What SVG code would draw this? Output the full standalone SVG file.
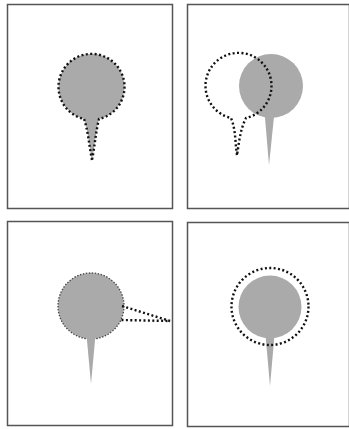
<svg xmlns="http://www.w3.org/2000/svg" width="349" height="429" viewBox="0 0 349 429">
<style>
.frame{fill:#fff;stroke:#555;stroke-width:1.5}
.grey{fill:#aaa;stroke:none}
.dots{fill:none;stroke:#111;stroke-width:2.4;stroke-dasharray:2 2.4}
.dotsfill{fill:#aaa;stroke:#111;stroke-width:2.4;stroke-dasharray:2 2.4}
.thin{fill:#aaa;stroke:#444;stroke-width:1.3;stroke-dasharray:1.5 1.5}
</style>
<rect width="349" height="429" fill="#fff"/>
<g id="panel1">
<rect class="frame" x="7.5" y="4.5" width="165" height="204"/>
<path class="dotsfill" d="M92,160 C89,145 88,130 84,119 A33,33 0 1 1 99,119 C96,130 95,145 92,160 Z"/>
</g>
<g id="panel2">
<rect class="frame" x="187.5" y="4.5" width="162" height="204"/>
<circle class="grey" cx="271" cy="86" r="32"/>
<polygon class="grey" points="264.5,112 274.5,112 269,165"/>
<path class="dots" d="M237,155 C235,143 236,130 231,118 A33,33 0 1 1 246,118 C240,130 239,143 237,155 Z"/>
</g>
<g id="panel3">
<rect class="frame" x="7.5" y="221.5" width="165" height="204"/>
<circle class="thin" cx="91" cy="306" r="33"/>
<polygon class="grey" points="86.5,335 95.5,335 91,384"/>
<path class="dots" d="M122,306 L170,321 L121,320"/>
</g>
<g id="panel4">
<rect class="frame" x="187.5" y="222.5" width="162" height="204"/>
<circle class="grey" cx="270" cy="307" r="31.5"/>
<polygon class="grey" points="265.5,335 274.5,335 270,386"/>
<circle class="dots" cx="270" cy="306.5" r="38.5"/>
</g>
</svg>
